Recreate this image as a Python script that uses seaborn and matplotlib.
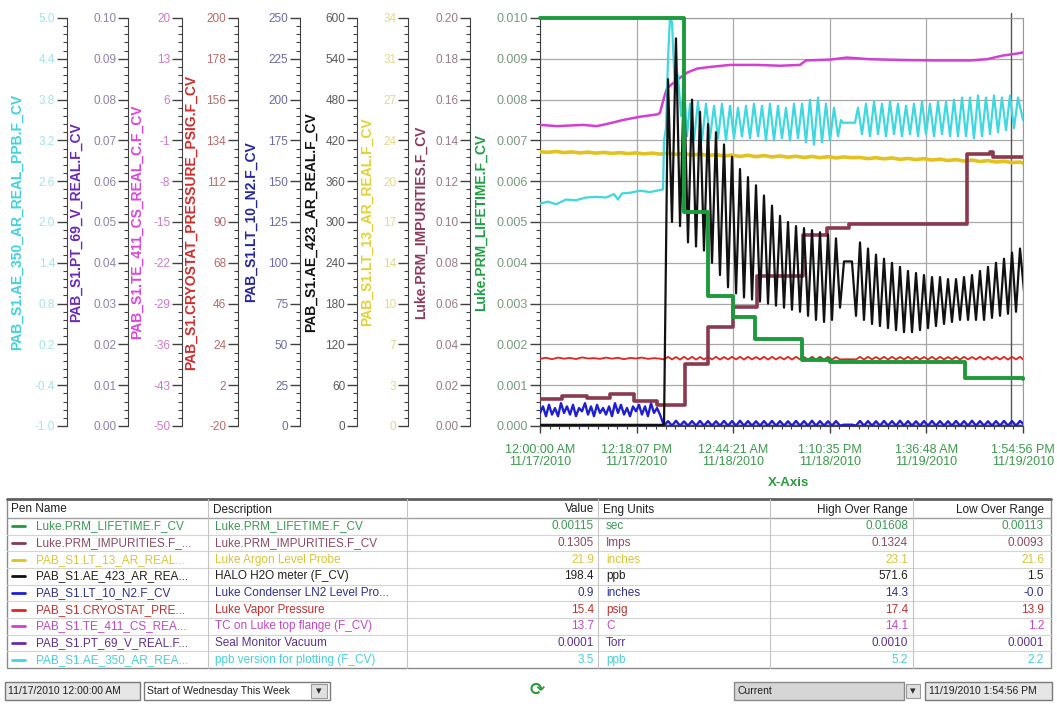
import matplotlib
matplotlib.use("Agg")
import matplotlib.pyplot as plt
import seaborn as sns
from matplotlib.ticker import LinearLocator, FormatStrFormatter, AutoMinorLocator, FixedFormatter
from matplotlib.patches import Rectangle

# ---------------- data ----------------
T_END = 61.9156  # hours from 11/17/2010 00:00:00 to 11/19/2010 13:54:56
x_tick_labels = ["12:00:00 AM\n11/17/2010", "12:18:07 PM\n11/17/2010", "12:44:21 AM\n11/18/2010",
                 "1:10:35 PM\n11/18/2010", "1:36:48 AM\n11/19/2010", "1:54:56 PM\n11/19/2010"]
cursor_hour = 60.38

# left-side scales (left to right)
axis_names = ["PAB_S1.AE_350_AR_REAL_PPB.F_CV", "PAB_S1.PT_69_V_REAL.F_CV", "PAB_S1.TE_411_CS_REAL_C.F_CV",
              "PAB_S1.CRYOSTAT_PRESSURE_PSIG.F_CV", "PAB_S1.LT_10_N2.F_CV", "PAB_S1.AE_423_AR_REAL.F_CV",
              "PAB_S1.LT_13_AR_REAL.F_CV", "Luke.PRM_IMPURITIES.F_CV"]
axis_lo = [-1.0, 0.0, -50.0, -20.0, 0.0, 0.0, 0.0, 0.0]
axis_hi = [5.0, 0.10, 20.0, 200.0, 250.0, 600.0, 34.0, 0.20]
axis_fmt = ['%.1f', '%.2f', '%.0f', '%.0f', '%.0f', '%.0f', '%.0f', '%.2f']
lifetime_name = "Luke.PRM_LIFETIME.F_CV"
lifetime_lo, lifetime_hi = 0.0, 0.010

# Luke.PRM_LIFETIME (sec) - step series
green_hours = [0.0, 18.46, 21.54, 24.74, 27.56, 33.59, 37.18, 54.48, 61.92]
green_sec = [0.0100, 0.00524, 0.00319, 0.00266, 0.00213, 0.00162, 0.00157, 0.00117, 0.00115]

# Luke.PRM_IMPURITIES - step series
maroon_hours = [0.0, 2.82, 6.03, 8.97, 12.05, 15.00, 18.59, 21.54, 24.74, 27.82, 33.71, 36.79, 39.61,
                54.74, 57.69, 58.07, 61.92]
maroon_imps = [0.0132, 0.0148, 0.0135, 0.0155, 0.0122, 0.0103, 0.0304, 0.0486, 0.0584, 0.0735, 0.0936,
               0.0970, 0.0990, 0.1335, 0.1345, 0.1318, 0.1318]

# Luke Argon level (inches)
yellow_hours = [0.00, 1.03, 2.05, 3.08, 4.10, 5.13, 6.15, 7.18, 8.20, 9.23,
                10.26, 11.28, 12.31, 13.33, 14.36, 15.38, 16.41, 17.43, 18.46, 19.48,
                20.51, 21.54, 22.56, 23.59, 24.61, 25.64, 26.66, 27.69, 28.71, 29.74,
                30.77, 31.79, 32.82, 33.84, 34.87, 35.89, 36.92, 37.94, 38.97, 39.99,
                41.02, 42.05, 43.07, 44.10, 45.12, 46.15, 47.17, 48.20, 49.22, 50.25,
                51.28, 52.30, 53.33, 54.35, 55.38, 56.40, 57.43, 58.45, 59.48, 60.50,
                61.53, 61.92]
yellow_inches = [22.85, 22.80, 22.88, 22.78, 22.84, 22.76, 22.82, 22.74, 22.80, 22.72,
                 22.78, 22.70, 22.76, 22.68, 22.74, 22.66, 22.72, 22.64, 22.70, 22.58,
                 22.66, 22.54, 22.62, 22.50, 22.58, 22.46, 22.56, 22.44, 22.54, 22.42,
                 22.50, 22.40, 22.48, 22.38, 22.46, 22.36, 22.44, 22.34, 22.42, 22.36,
                 22.38, 22.28, 22.36, 22.26, 22.34, 22.22, 22.30, 22.20, 22.28, 22.16,
                 22.24, 22.12, 22.20, 22.08, 22.16, 22.04, 22.12, 22.00, 22.06, 21.96,
                 22.00, 21.90]

# TC on Luke top flange (C)
magenta_hours = [0.0, 2.18, 5.51, 7.31, 8.97, 10.64, 12.82, 15.13, 15.38, 15.90, 16.28, 17.56, 18.84,
                 20.13, 21.79, 24.36, 27.82, 30.77, 33.33, 34.10, 37.18, 39.35, 42.30, 46.53, 50.89,
                 55.12, 57.30, 59.35, 61.15, 61.92]
magenta_c = [1.66, 1.45, 1.66, 1.45, 1.94, 2.50, 3.06, 3.48, 3.76, 6.35, 7.96, 9.36, 10.62,
             11.32, 11.60, 11.95, 11.95, 11.81, 11.95, 12.72, 12.86, 13.21, 12.93, 12.79, 12.72,
             12.72, 12.93, 13.56, 13.90, 14.10]

# ppb version for plotting (ppb)
cyan_hours = [0.00, 1.03, 2.05, 3.33, 4.61, 5.90, 7.18, 8.46, 9.49, 10.00, 10.51, 11.54, 12.82, 14.10, 15.38, 15.77,
              15.90, 16.15, 16.41, 16.66, 16.92, 17.31, 17.69, 18.08, 18.46, 18.84, 19.23,
              19.74, 20.25, 20.77, 21.28, 21.79, 22.31, 22.82, 23.33, 23.84, 24.36,
              24.87, 25.38, 25.89, 26.41, 26.92, 27.43, 27.95, 28.46, 28.97, 29.48,
              30.00, 30.51, 31.02, 31.53, 32.05, 32.56, 33.07, 33.59, 34.10, 34.61,
              35.12, 35.64, 36.15, 36.66, 37.18, 37.69, 38.20,
              38.59, 38.84, 40.38,
              40.76, 41.28, 41.79, 42.30, 42.82, 43.33, 43.84, 44.35, 44.87, 45.38,
              45.89, 46.40, 46.92, 47.43, 47.94, 48.46, 48.97, 49.48, 49.99, 50.51,
              51.02, 51.53, 52.05, 52.56, 53.07, 53.58, 54.10, 54.61, 55.12, 55.63,
              56.15, 56.66, 57.17, 57.69, 58.20, 58.71, 59.22, 59.74, 60.25, 60.76,
              61.28, 61.92]
cyan_ppb = [2.27, 2.30, 2.26, 2.33, 2.32, 2.36, 2.37, 2.36, 2.41, 2.33, 2.42, 2.43, 2.46, 2.44, 2.47, 2.48,
            3.20, 3.38, 4.40, 5.00, 4.94, 3.92, 4.16, 3.56, 4.04, 3.26, 3.74,
            3.20, 3.77, 3.20, 3.74, 3.23, 3.71, 3.23, 3.74, 3.20, 3.71,
            3.23, 3.68, 3.26, 3.71, 3.23, 3.74, 3.26, 3.71, 3.20, 3.74,
            3.20, 3.71, 3.23, 3.68, 3.20, 3.74, 3.23, 3.74, 3.17, 3.80,
            3.14, 3.83, 3.17, 3.74, 3.20, 3.68, 3.26,
            3.50, 3.46, 3.46,
            3.68, 3.29, 3.74, 3.26, 3.77, 3.29, 3.74, 3.26, 3.77, 3.29,
            3.74, 3.26, 3.71, 3.29, 3.74, 3.26, 3.77, 3.29, 3.74, 3.26,
            3.77, 3.29, 3.77, 3.26, 3.80, 3.26, 3.83, 3.26, 3.83, 3.23,
            3.86, 3.26, 3.83, 3.29, 3.86, 3.32, 3.83, 3.35, 3.86, 3.38,
            3.83, 3.50]

# fast-sampled period after the event (shared sample times)
fast_hours = [15.90, 16.41, 16.92, 17.43, 17.95, 18.46, 18.97, 19.49, 20.00, 20.51,
              21.02, 21.54, 22.05, 22.56, 23.07, 23.59, 24.10, 24.61, 25.13, 25.64,
              26.15, 26.66, 27.18, 27.69, 28.20, 28.71, 29.23, 29.74, 30.25, 30.77,
              31.28, 31.79, 32.30, 32.82, 33.33, 33.84, 34.36, 34.87, 35.38, 35.89,
              36.41, 36.92, 37.43, 37.94, 38.46, 38.97, 39.48, 39.99, 40.51, 41.02,
              41.53, 42.05, 42.56, 43.07, 43.58, 44.10, 44.61, 45.12, 45.64, 46.15,
              46.66, 47.17, 47.69, 48.20, 48.71, 49.22, 49.74, 50.25, 50.76, 51.28,
              51.79, 52.30, 52.81, 53.33, 53.84, 54.35, 54.87, 55.38, 55.89, 56.40,
              56.92, 57.43, 57.94, 58.45, 58.97, 59.48, 59.99, 60.51, 61.02, 61.53,
              62.05]

# HALO H2O meter (ppb)
black_pre_hours = [0.0, 15.50]
black_pre_ppb = [1.5, 1.5]
black_ppb = [2, 510, 300, 570, 294, 510, 270, 480, 264, 462,
             258, 444, 240, 432, 222, 414, 204, 396, 195, 378,
             189, 366, 186, 354, 183, 339, 180, 324, 177, 309,
             174, 300, 171, 294, 168, 291, 162, 288, 156, 285,
             153, 282, 156, 276, 174, 242, 242, 242, 162, 270,
             156, 261, 150, 252, 147, 246, 144, 240, 141, 234,
             138, 228, 138, 225, 141, 222, 144, 219, 147, 219,
             150, 216, 153, 216, 156, 219, 156, 222, 156, 228,
             156, 234, 159, 240, 162, 246, 165, 255, 168, 261,
             198]

# Luke Vapor Pressure (psig)
red_pre_hours = [0.00, 0.77, 1.54, 2.31, 3.08, 3.85, 4.61, 5.38, 6.15, 6.92, 7.69,
                 8.46, 9.23, 10.00, 10.77, 11.54, 12.31, 13.07, 13.84, 14.61, 15.38]
red_pre_psig = [16.2, 16.8, 16.0, 16.9, 16.3, 16.7, 16.1, 17.0, 16.4, 16.6, 16.2,
                16.9, 16.3, 16.8, 16.0, 16.7, 16.4, 16.9, 16.2, 16.6, 16.3]
red_psig = [15.9, 17.3, 15.9, 17.2, 15.8, 17.3, 15.9, 17.3, 15.8, 17.2,
            15.9, 17.3, 15.9, 17.3, 15.8, 17.2, 15.9, 17.3, 15.9, 17.3,
            15.8, 17.3, 15.9, 17.2, 15.9, 17.3, 15.8, 17.3, 15.9, 17.2,
            15.9, 17.3, 15.8, 17.3, 15.9, 17.2, 15.9, 17.3, 15.8, 17.3,
            15.9, 17.3, 15.8, 17.2, 15.9, 16.0, 16.0, 16.0, 15.9, 17.3,
            15.8, 17.3, 15.9, 17.2, 15.9, 17.3, 15.8, 17.3, 15.9, 17.2,
            15.9, 17.3, 15.8, 17.3, 15.9, 17.2, 15.9, 17.3, 15.8, 17.3,
            15.9, 17.2, 15.9, 17.3, 15.8, 17.3, 15.9, 17.2, 15.9, 17.3,
            15.8, 17.3, 15.9, 17.2, 15.9, 17.3, 15.8, 17.3, 15.9, 17.3,
            15.4]

# Luke Condenser LN2 level (inches)
blue_pre_hours = [0.00, 0.38, 0.77, 1.15, 1.54, 1.92, 2.31, 2.69, 3.08, 3.46,
                  3.85, 4.23, 4.61, 5.00, 5.38, 5.77, 6.15, 6.54, 6.92, 7.31,
                  7.69, 8.08, 8.46, 8.85, 9.23, 9.61, 10.00, 10.38, 10.77, 11.15,
                  11.54, 11.92, 12.31, 12.69, 13.07, 13.46, 13.84, 14.23, 14.61, 15.00,
                  15.38]
blue_pre_inches = [8, 12, 6, 13, 7, 11, 6, 14, 8, 12,
                   7, 13, 6, 11, 9, 14, 7, 12, 6, 13,
                   8, 11, 7, 12, 6, 14, 8, 13, 7, 11,
                   6, 12, 9, 13, 7, 12, 6, 14, 8, 11,
                   7]
blue_inches = [0.2, 3.0, 0.2, 3.2, 0.2, 2.8, 0.2, 3.0, 0.2, 3.1,
               0.2, 3.0, 0.2, 2.9, 0.2, 3.1, 0.2, 3.0, 0.2, 3.2,
               0.2, 3.0, 0.2, 2.9, 0.2, 3.0, 0.2, 3.1, 0.2, 3.0,
               0.2, 2.9, 0.2, 3.1, 0.2, 3.0, 0.2, 3.2, 0.2, 3.0,
               0.2, 2.9, 0.2, 3.0, 0.2, 0.8, 0.8, 0.8, 0.2, 3.1,
               0.2, 3.0, 0.2, 2.9, 0.2, 3.1, 0.2, 3.0, 0.2, 3.2,
               0.2, 3.0, 0.2, 2.9, 0.2, 3.0, 0.2, 3.1, 0.2, 3.0,
               0.2, 2.9, 0.2, 3.1, 0.2, 3.0, 0.2, 3.2, 0.2, 3.0,
               0.2, 2.9, 0.2, 3.0, 0.2, 3.1, 0.2, 3.0, 0.2, 3.1,
               0.9]

# Seal Monitor Vacuum (Torr)
purple_hours = [0.0, 15.50, 15.90, 61.92]
purple_torr = [0.0003, 0.0003, 0.0001, 0.0001]

# table
pen_names = ["Luke.PRM_LIFETIME.F_CV", "Luke.PRM_IMPURITIES.F_...", "PAB_S1.LT_13_AR_REAL...",
             "PAB_S1.AE_423_AR_REA...", "PAB_S1.LT_10_N2.F_CV", "PAB_S1.CRYOSTAT_PRE...",
             "PAB_S1.TE_411_CS_REA...", "PAB_S1.PT_69_V_REAL.F...", "PAB_S1.AE_350_AR_REA..."]
descriptions = ["Luke.PRM_LIFETIME.F_CV", "Luke.PRM_IMPURITIES.F_CV", "Luke Argon Level Probe",
                "HALO H2O meter (F_CV)", "Luke Condenser LN2 Level Pro...", "Luke Vapor Pressure",
                "TC on Luke top flange (F_CV)", "Seal Monitor Vacuum", "ppb version for plotting (F_CV)"]
cur_values = ["0.00115", "0.1305", "21.9", "198.4", "0.9", "15.4", "13.7", "0.0001", "3.5"]
eng_units = ["sec", "Imps", "inches", "ppb", "inches", "psig", "C", "Torr", "ppb"]
high_range = ["0.01608", "0.1324", "23.1", "571.6", "14.3", "17.4", "14.1", "0.0010", "5.2"]
low_range = ["0.00113", "0.0093", "21.6", "1.5", "-0.0", "13.9", "1.2", "0.0001", "2.2"]
header = ["Pen Name", "Description", "Value", "Eng Units", "High Over Range", "Low Over Range"]

# ---------------- styling ----------------
sns.set_style("white")
plt.rcParams['font.family'] = ['Liberation Sans', 'DejaVu Sans']

C_CYAN, C_PURPLE, C_MAG, C_RED = '#3ed8de', '#6a2aa8', '#d23fd2', '#e2231f'
C_NAVY, C_BLACK, C_YEL, C_MAR, C_GRN = '#1f1fd0', '#111111', '#e2c21f', '#8a3a50', '#1d9a3c'
label_colors = ['#3fd3df', '#6b28b8', '#dd44dd', '#d42a2a', '#25259e', '#111111', '#e3d234', '#8b3b5b']
tick_colors = ['#a3e4e8', '#8f80ad', '#cf77cf', '#b86a6a', '#6a6aa8', '#5a5a5a', '#e3d98a', '#9a7a88']
spine_px = [67, 128, 182, 238, 300, 357, 408, 470]
label_px = [24, 83, 144, 198, 258, 318, 374, 428]

W, H = 1057, 709
fig = plt.figure(figsize=(W / 100, H / 100), dpi=100)
fig.patch.set_facecolor('white')


def fbox(l, t, r, b):
    return [l / W, 1 - b / H, (r - l) / W, (b - t) / H]


PL, PT, PR, PB = 540, 18, 1023, 426
LBL_Y = 1 - 222 / H
TICK_FS = 8.5

# main plot axis (lifetime scale)
ax = fig.add_axes(fbox(PL, PT, PR, PB))
ax.set_facecolor('white')
ax.set_xlim(0, T_END)
ax.set_ylim(lifetime_lo, lifetime_hi)
ax.yaxis.set_major_locator(LinearLocator(11))
ax.yaxis.set_major_formatter(FormatStrFormatter('%.3f'))
ax.yaxis.set_minor_locator(AutoMinorLocator(5))
ax.xaxis.set_major_locator(LinearLocator(6))
ax.xaxis.set_major_formatter(FixedFormatter(x_tick_labels))
ax.xaxis.set_minor_locator(AutoMinorLocator(10))
ax.grid(True, which='major', color='#a8a8a8', lw=0.9)
ax.set_axisbelow(True)
for s in ['top', 'right']:
    ax.spines[s].set_color('#9a9a9a')
for s in ['left', 'bottom']:
    ax.spines[s].set_color('#404040')
ax.tick_params(axis='y', which='major', direction='out', length=7, width=1, color='#404040',
               labelsize=9, labelcolor='#789a80', pad=1.5, left=True)
ax.tick_params(axis='y', which='minor', direction='out', length=3, width=0.8, color='#404040', left=True)
ax.tick_params(axis='x', which='major', direction='out', length=5, width=1, color='#404040',
               labelsize=9, labelcolor='#3a9a4a', pad=8, bottom=True)
ax.tick_params(axis='x', which='minor', direction='out', length=2.5, width=0.8, color='#404040', bottom=True)
for lbl in ax.get_xticklabels():
    lbl.set_linespacing(1.0)
ax.set_ylabel(lifetime_name, color='#1fa043', fontsize=10, fontweight='bold')
ax.yaxis.set_label_coords(488 / W, LBL_Y, transform=fig.transFigure)
ax.set_xlabel("X-Axis", color='#2a9a3a', fontsize=9.5, fontweight='bold')
ax.xaxis.set_label_coords(789 / W, 1 - 477 / H, transform=fig.transFigure)
ax.axvline(cursor_hour, color='#555555', lw=1.0, ymin=0, ymax=1.012, clip_on=False, zorder=1)

# stacked left scales
for i in range(len(axis_names)):
    sx = spine_px[i]
    a = fig.add_axes(fbox(sx, PT, sx + 1, PB))
    a.patch.set_visible(False)
    for s in ['top', 'right', 'bottom']:
        a.spines[s].set_visible(False)
    a.spines['left'].set_color('#404040')
    a.set_xticks([])
    a.set_ylim(axis_lo[i], axis_hi[i])
    a.yaxis.set_major_locator(LinearLocator(11))
    a.yaxis.set_major_formatter(FormatStrFormatter(axis_fmt[i]))
    a.yaxis.set_minor_locator(AutoMinorLocator(5))
    a.tick_params(axis='y', which='major', direction='out', length=7, width=1, color='#404040',
                  labelsize=TICK_FS, labelcolor=tick_colors[i], pad=1.5, left=True)
    a.tick_params(axis='y', which='minor', direction='out', length=3, width=0.8, color='#404040', left=True)
    a.set_ylabel(axis_names[i], color=label_colors[i], fontsize=10, fontweight='bold')
    a.yaxis.set_label_coords(label_px[i] / W, LBL_Y, transform=fig.transFigure)


# each pen drawn on its own scale, overlaid on the plot area
def pen_axis(lo, hi):
    t = ax.twinx()
    t.set_axis_off()
    t.set_ylim(lo, hi)
    return t


common = dict(estimator=None, sort=False, legend=False)

t = pen_axis(axis_lo[6], axis_hi[6])
sns.lineplot(x=yellow_hours, y=yellow_inches, ax=t, color=C_YEL, linewidth=2.6, **common)
t.set_ylim(axis_lo[6], axis_hi[6])

t = pen_axis(axis_lo[2], axis_hi[2])
sns.lineplot(x=magenta_hours, y=magenta_c, ax=t, color=C_MAG, linewidth=1.8, **common)
t.set_ylim(axis_lo[2], axis_hi[2])

t = pen_axis(axis_lo[0], axis_hi[0])
sns.lineplot(x=cyan_hours, y=cyan_ppb, ax=t, color=C_CYAN, linewidth=1.6, **common)
t.set_ylim(axis_lo[0], axis_hi[0])

t = pen_axis(axis_lo[3], axis_hi[3])
sns.lineplot(x=red_pre_hours + fast_hours, y=red_pre_psig + red_psig, ax=t, color=C_RED, linewidth=1.3, **common)
t.set_ylim(axis_lo[3], axis_hi[3])

t = pen_axis(axis_lo[1], axis_hi[1])
sns.lineplot(x=purple_hours, y=purple_torr, ax=t, color=C_PURPLE, linewidth=1.4, **common)
t.set_ylim(axis_lo[1], axis_hi[1])

t = pen_axis(axis_lo[4], axis_hi[4])
sns.lineplot(x=blue_pre_hours + fast_hours, y=blue_pre_inches + blue_inches, ax=t, color=C_NAVY,
             linewidth=1.7, **common)
t.set_ylim(axis_lo[4], axis_hi[4])

t = pen_axis(axis_lo[7], axis_hi[7])
sns.lineplot(x=maroon_hours, y=maroon_imps, ax=t, color=C_MAR, linewidth=2.6, drawstyle='steps-post', **common)
t.set_ylim(axis_lo[7], axis_hi[7])

t = pen_axis(axis_lo[5], axis_hi[5])
sns.lineplot(x=black_pre_hours + fast_hours, y=black_pre_ppb + black_ppb, ax=t, color=C_BLACK,
             linewidth=1.6, **common)
t.set_ylim(axis_lo[5], axis_hi[5])

t = pen_axis(lifetime_lo, lifetime_hi)
sns.lineplot(x=green_hours, y=green_sec, ax=t, color=C_GRN, linewidth=2.8, drawstyle='steps-post',
             clip_on=False, **common)
t.set_ylim(lifetime_lo, lifetime_hi)
ax.set_xlim(0, T_END)

# ---------------- trend table ----------------
tb = fig.add_axes([0, 0, 1, 1], zorder=-1)
tb.set_xlim(0, W)
tb.set_ylim(H, 0)
tb.set_axis_off()

TL, TR, TT, HB, TBm = 7, 1051, 499, 518, 668
row_h = (TBm - HB) / len(pen_names)
col_div = [208, 407, 598, 770, 913]
text_colors = ['#3a9a52', '#8a4a62', '#d8c63a', '#202020', '#303090', '#c03030', '#c048c8', '#5a3090', '#48d0d8']
dash_colors = [C_GRN, C_MAR, C_YEL, C_BLACK, C_NAVY, C_RED, C_MAG, C_PURPLE, C_CYAN]
FS = 8.5

tb.add_patch(Rectangle((TL, TT), TR - TL, TBm - TT, fill=False, ec='#8a8a8a', lw=1))
tb.plot([TL, TR], [TT, TT], color='#606060', lw=2)
tb.plot([TL, TR], [HB, HB], color='#a0a0a0', lw=1)
for i in range(1, len(pen_names)):
    yy = HB + i * row_h
    tb.plot([TL, TR], [yy, yy], color='#d4d4d4', lw=0.8)
for cx in col_div:
    tb.plot([cx, cx], [TT, TBm], color='#c4c4c4', lw=0.8)

hy = (TT + HB) / 2 + 1
tb.text(11, hy, header[0], fontsize=FS, color='#202020', va='center', ha='left')
tb.text(213, hy, header[1], fontsize=FS, color='#202020', va='center', ha='left')
tb.text(594, hy, header[2], fontsize=FS, color='#202020', va='center', ha='right')
tb.text(603, hy, header[3], fontsize=FS, color='#202020', va='center', ha='left')
tb.text(908, hy, header[4], fontsize=FS, color='#202020', va='center', ha='right')
tb.text(1044, hy, header[5], fontsize=FS, color='#202020', va='center', ha='right')

for i in range(len(pen_names)):
    yc = HB + (i + 0.5) * row_h
    c = text_colors[i]
    tb.plot([12, 25], [yc, yc], color=dash_colors[i], lw=2)
    tb.text(36, yc, pen_names[i], fontsize=FS, color=c, va='center', ha='left')
    tb.text(215, yc, descriptions[i], fontsize=FS, color=c, va='center', ha='left')
    tb.text(594, yc, cur_values[i], fontsize=FS, color=c, va='center', ha='right')
    tb.text(606, yc, eng_units[i], fontsize=FS, color=c, va='center', ha='left')
    tb.text(908, yc, high_range[i], fontsize=FS, color=c, va='center', ha='right')
    tb.text(1044, yc, low_range[i], fontsize=FS, color=c, va='center', ha='right')

# ---------------- time bar ----------------
BY0, BY1 = 682, 700
byc = (BY0 + BY1) / 2
tb.add_patch(Rectangle((5, BY0), 135, BY1 - BY0, fc='#e6e6e6', ec='#7a7a7a', lw=1))
tb.text(8, byc, "11/17/2010 12:00:00 AM", fontsize=7.5, color='#202020', va='center', ha='left')
tb.add_patch(Rectangle((144, BY0), 186, BY1 - BY0, fc='white', ec='#7a7a7a', lw=1))
tb.text(147, byc, "Start of Wednesday This Week", fontsize=7.5, color='#202020', va='center', ha='left')
tb.add_patch(Rectangle((311, BY0 + 2), 16, BY1 - BY0 - 4, fc='#e0e0e0', ec='#9a9a9a', lw=0.8))
tb.text(319, byc, "▾", fontsize=8, color='#303030', va='center', ha='center', family='DejaVu Sans')
tb.text(537, byc - 1, "⟳", fontsize=13, color='#2a9a3a', va='center', ha='center', family='DejaVu Sans',
        fontweight='bold')
tb.add_patch(Rectangle((734, BY0), 170, BY1 - BY0, fc='#d6d6d6', ec='#8a8a8a', lw=1))
tb.text(738, byc, "Current", fontsize=7.5, color='#202020', va='center', ha='left')
tb.add_patch(Rectangle((906, BY0 + 2), 14, BY1 - BY0 - 4, fc='#e0e0e0', ec='#9a9a9a', lw=0.8))
tb.text(913, byc, "▾", fontsize=8, color='#303030', va='center', ha='center', family='DejaVu Sans')
tb.add_patch(Rectangle((925, BY0), 127, BY1 - BY0, fc='#e6e6e6', ec='#7a7a7a', lw=1))
tb.text(929, byc, "11/19/2010 1:54:56 PM", fontsize=7.5, color='#202020', va='center', ha='left')

fig.savefig("out.png", dpi=100, facecolor='white')
